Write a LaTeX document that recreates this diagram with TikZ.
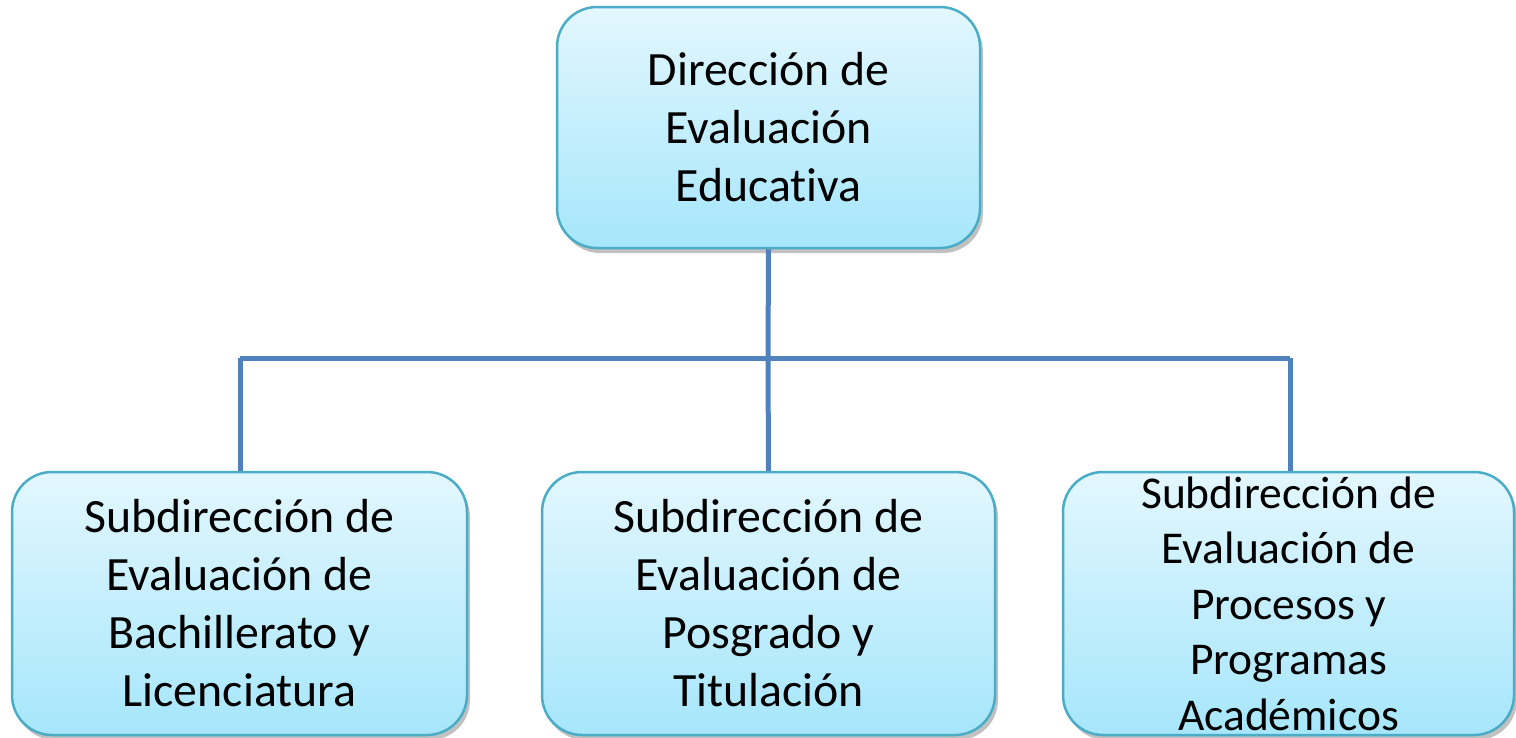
\documentclass[tikz,border=0pt]{standalone}
\usepackage{fontspec}
\setmainfont{Carlito}[Ligatures=NoCommon]
\usetikzlibrary{shadows}
\definecolor{boxborder}{HTML}{4BACC6}
\definecolor{boxtop}{HTML}{E3F7FE}
\definecolor{boxbot}{HTML}{A6E6FB}
\definecolor{linkcol}{HTML}{4F81BD}
\tikzset{
  orgbox/.style={rectangle, rounded corners=40pt, draw=boxborder, line width=2.5pt,
    top color=boxtop, bottom color=boxbot, align=center, inner sep=0pt,
    font=\fontsize{47.8}{58}\selectfont, text=black,
    drop shadow={shadow xshift=3pt, shadow yshift=-5pt, opacity=0.35, fill=black!70}},
  link/.style={draw=linkcol, line width=5pt}
}
\begin{document}
\begin{tikzpicture}[x=1pt,y=-1pt]
\useasboundingbox (0,0) rectangle (1516,737);
\coordinate (hl) at (240,358);
\coordinate (hm) at (768,358);
\coordinate (hr) at (1290,358);
\node[orgbox, minimum width=423pt, minimum height=241pt] (top) at (768.5,127.5) {Dirección de\\Evaluación\\Educativa};
\node[orgbox, minimum width=455pt, minimum height=263pt] (left) at (239.5,603.5) {Subdirección de\\Evaluación de\\Bachillerato y\\Licenciatura};
\node[orgbox, minimum width=453pt, minimum height=263pt] (mid) at (768.5,603.5) {Subdirección de\\Evaluación de\\Posgrado y\\Titulación};
\node[orgbox, minimum width=451pt, minimum height=263pt, font=\fontsize{45.5}{55.5}\selectfont] (right) at (1288.5,603.5) {Subdirección de\\Evaluación de\\Procesos y\\Programas\\Académicos};
\draw[link] (top.south) -- (hm);
\draw[link] (hl) -- (hr);
\draw[link] (hl) -- (hl |- left.north);
\draw[link] (hm) -- (mid.north);
\draw[link] (hr) -- (hr |- right.north);
\end{tikzpicture}
\end{document}
